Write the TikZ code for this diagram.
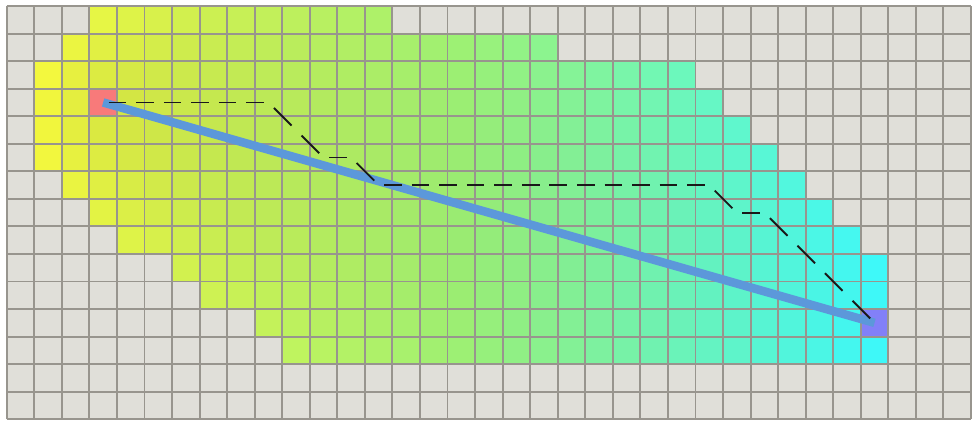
\documentclass[tikz,border=0pt]{standalone}
\usetikzlibrary{calc}
\definecolor{floorgray}{RGB}{224,223,217}
\definecolor{gridgray}{RGB}{152,149,142}
\definecolor{startred}{RGB}{248,122,122}
\definecolor{goalblue}{RGB}{130,128,248}
\definecolor{lineblue}{RGB}{92,152,218}
\tikzset{
    cellbase/.style={ % kiểu ô lưới cơ sở
        draw=none,
        shape=rectangle,
        minimum size=0.5cm,
        inner sep=0pt
    },
    cell_start/.style={ % ô xuất phát
        cellbase,
        fill=startred
    },
    cell_goal/.style={ % ô đích
        cellbase,
        fill=goalblue
    },
    grid_line/.style={draw=gridgray, line width=1pt}, % đường lưới
    line_direct/.style={draw=lineblue, line width=4.4pt}, % đường thẳng
    path_step/.style={draw=black!90, line width=0.95pt}, % một bước của đường đi
    x=0.5cm, y=0.5cm
}
\begin{document}
\begin{tikzpicture}

        \useasboundingbox (-0.244,0.218) rectangle (35.147,-15.28);
        \fill[floorgray] (0,0) rectangle (35,-15);

        % các ô đã duyệt, tô theo cột
        \foreach \row/\first/\last in {0/3/13,1/2/19,2/1/24,3/1/25,4/1/26,5/1/27,6/2/28,
                7/3/29,8/4/30,9/6/31,10/7/31,11/9/31,12/10/31}{
                \foreach \col in {\first,...,\last}{
                        \pgfmathsetmacro\hue{(\col-1)/30}
                        \pgfmathsetmacro\extra{veclen(\col-3,\row-3)+veclen(31-\col,11-\row)-veclen(28,8)}
                        \pgfmathsetmacro\shade{1-(0.10-0.07*\hue)*(1-min(\extra/6,1))}
                        \pgfmathtruncatemacro\valR{\shade*(\hue<0.5 ? 250-170*\hue : 165-202*(\hue-0.5))}
                        \pgfmathtruncatemacro\valG{\shade*(\hue<0.5 ? 255-6*\hue : 252+6*(\hue-0.5))}
                        \pgfmathtruncatemacro\valB{\shade*(\hue<0.5 ? 64+116*\hue : 122+266*(\hue-0.5))}
                        \definecolor{cellfill}{RGB}{\valR,\valG,\valB}
                        \fill[cellfill] (\col,-\row) rectangle ++(1,-1);
                }
        }

        \node [cell_start] (start) at (3.5,-3.5) {};
        \node [cell_goal] (goal) at (31.5,-11.5) {};

        \draw[grid_line, step=0.5cm] (0,0) grid (35,-15);

        \draw[line_direct] (start.center) -- (goal.center);

        % đường đi trên lưới, từng bước
        \foreach \px/\py [count=\i from 0] in {3/3,4/3,5/3,6/3,7/3,8/3,9/3,10/4,11/5,12/5,13/6,
                14/6,15/6,16/6,17/6,18/6,19/6,20/6,21/6,22/6,23/6,24/6,25/6,26/7,27/7,
                28/8,29/9,30/10,31/11}
                \coordinate (p\i) at (\px+0.5,-\py-0.5);
        \foreach \i [evaluate=\i as \j using int(\i+1)] in {0,...,27}
                \draw[path_step] ($(p\i)!0.2!(p\j)$) -- ($(p\i)!0.84!(p\j)$);

\end{tikzpicture}
\end{document}
